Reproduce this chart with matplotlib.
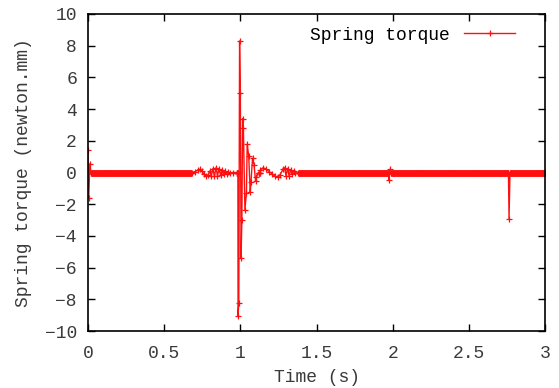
import numpy as np
import matplotlib
matplotlib.use('Agg')
import matplotlib.pyplot as plt

# sample spacing of the quiet baseline (torque reads 0 there)
base_step = 0.002
t_end = 3.0

# event segments: (time s, torque newton.mm)
start_t = [0.000, 0.005, 0.012, 0.020]
start_v = [1.45, -1.60, 0.55, 0.0]

pre_t = [0.680, 0.700, 0.720, 0.735, 0.750, 0.760, 0.775, 0.790, 0.800, 0.810,
         0.820, 0.830, 0.840, 0.850, 0.860, 0.870, 0.880, 0.890, 0.900, 0.910,
         0.920, 0.930, 0.950, 0.975]
pre_v = [0.0, 0.05, 0.15, 0.20, 0.10, -0.10, -0.25, -0.15, 0.10, -0.20,
         0.25, -0.25, 0.30, -0.20, 0.25, -0.15, 0.15, -0.10, 0.10, -0.10,
         0.05, -0.05, 0.0, 0.0]

spike_t = [0.985, 0.990, 0.995, 1.000, 1.005, 1.010, 1.015, 1.020, 1.030, 1.040,
           1.045, 1.055, 1.065, 1.070, 1.080, 1.090, 1.100, 1.105, 1.120]
spike_v = [-9.05, -8.25, 8.30, 5.00, -5.40, -3.00, 3.40, 2.80, -2.35, -1.30,
           1.80, 1.05, -1.25, -0.60, 0.90, 0.50, -0.55, -0.30, 0.0]

post_t = [1.130, 1.150, 1.170, 1.190, 1.210, 1.230, 1.250, 1.260, 1.280, 1.290,
          1.300, 1.310, 1.320, 1.330, 1.340, 1.350, 1.360, 1.380]
post_v = [0.15, 0.30, 0.20, 0.05, -0.10, -0.25, -0.30, -0.15, 0.20, 0.30,
          -0.20, 0.25, -0.20, 0.15, -0.10, 0.10, -0.05, 0.0]

two_t = [1.975, 1.982, 1.990]
two_v = [-0.50, 0.20, 0.0]

late_t = [2.760, 2.764, 2.770]
late_v = [0.0, -2.95, 0.0]

segments = [(start_t, start_v), (pre_t, pre_v), (spike_t, spike_v),
            (post_t, post_v), (two_t, two_v), (late_t, late_v)]

# merge baseline samples with the event segments
t_base = np.arange(0, t_end + base_step / 2, base_step)
keep = np.ones(len(t_base), dtype=bool)
for st, sv in segments:
    keep &= ~((t_base >= st[0] - 1e-9) & (t_base <= st[-1] + 1e-9))
t_all = list(t_base[keep])
v_all = [0.0] * len(t_all)
for st, sv in segments:
    t_all += st
    v_all += sv
order = np.argsort(t_all, kind='stable')
t_all = np.array(t_all)[order]
v_all = np.array(v_all)[order]

plt.rcParams['font.family'] = ['Liberation Mono', 'DejaVu Sans Mono']
txt = '#3a3a3a'
fs = 13

fig = plt.figure(figsize=(5.59, 3.88), dpi=100)
ax = fig.add_axes([88 / 559, 57 / 388, 457 / 559, 317 / 388])

ax.plot(t_all, v_all, color='#ff1010', lw=1.0, marker='+', ms=4.0, mew=0.9,
        label='Spring torque')

ax.set_xlim(0, 3)
ax.set_ylim(-10, 10)
ax.set_xticks(np.arange(0, 3.01, 0.5))
ax.set_xticklabels(['0', '0.5', '1', '1.5', '2', '2.5', '3'])
ax.set_yticks(np.arange(-10, 10.1, 2))
ax.tick_params(axis='both', direction='in', length=5, width=1, top=True,
               right=True, labelsize=fs, labelcolor=txt)
ax.tick_params(axis='x', pad=10)
ax.tick_params(axis='y', pad=8)
for s in ax.spines.values():
    s.set_linewidth(1.2)

ax.set_xlabel('Time (s)', fontsize=fs, color=txt, labelpad=5)
ax.set_ylabel('Spring torque (newton.mm)', fontsize=fs, color=txt,
              labelpad=9)

ax.legend(loc='upper right', frameon=False, markerfirst=False,
          handlelength=2.8, handletextpad=0.8, fontsize=fs,
          borderaxespad=0.3, bbox_to_anchor=(0.962, 1.0))

fig.savefig('out.png', dpi=100)
